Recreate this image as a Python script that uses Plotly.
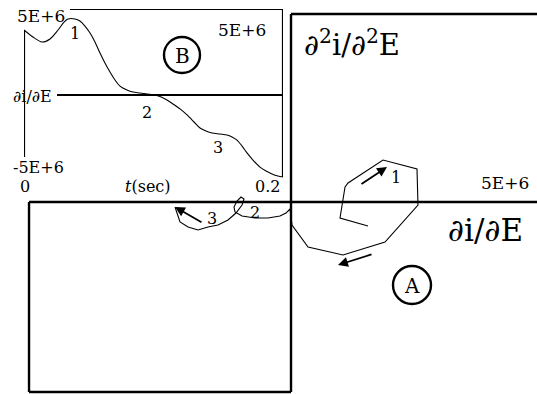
import plotly.graph_objects as go

W, H = 537, 394
SERIF = "DejaVu Serif"
M = 1e6  # stored values below are in units of 1E+6

# ---- Panel A: phase portrait, d2i/d2E versus di/dE (units of 1E+6) ----
phase_didE = [1.565, 0.996, 1.098, 1.159, 1.870, 2.561, 2.581, 1.911, 1.057,
              0.346, 0.020, -0.020, -0.020, -0.102, -0.224, -0.467, -0.732,
              -0.996, -1.138, -1.159, -1.098, -1.016, -0.955, -0.996, -1.118,
              -1.281, -1.484, -1.687, -1.890, -2.093, -2.256, -2.317, -2.358]
phase_d2idE2 = [-0.638, -0.426, 0.399, 0.505, 1.117, 0.878, -0.080, -1.064,
                -1.410, -1.197, -0.612, -0.266, -0.186, -0.293, -0.372, -0.426,
                -0.426, -0.372, -0.266, -0.133, 0.027, 0.133, 0.080, -0.080,
                -0.293, -0.479, -0.612, -0.665, -0.745, -0.665, -0.532, -0.293,
                -0.133]

# direction arrows along the phase path: (tail x, tail y, head x, head y)
phase_arrows = [(1.402, 0.452, 1.951, 0.931),
                (1.667, -1.383, 0.955, -1.676),
                (-1.789, -0.559, -2.358, -0.133)]
phase_marks = [("1", 2.124, 0.665), ("2", -0.732, -0.266), ("3", -1.606, -0.426)]

# ---- Panel B: di/dE versus time ----
t_sec = [0.0, 0.0069, 0.0139, 0.0201, 0.0263, 0.0309, 0.034, 0.0394, 0.0432,
         0.0471, 0.051, 0.0548, 0.0587, 0.0625, 0.0664, 0.0703, 0.0741,
         0.0795, 0.0842, 0.0896, 0.095, 0.1012, 0.105, 0.1104, 0.115, 0.1205,
         0.1259, 0.1313, 0.1359, 0.1405, 0.1452, 0.1514, 0.1568, 0.1606,
         0.1645, 0.1684, 0.1722, 0.1768, 0.1822, 0.1869, 0.1915, 0.1961, 0.2]
didE_t = [3.78, 3.37, 3.08, 3.26, 3.78, 4.24, 4.42, 4.42, 4.30, 4.01, 3.60,
          3.08, 2.44, 1.86, 1.34, 0.87, 0.52, 0.29, 0.17, 0.12, 0.06, 0.0,
          -0.09, -0.29, -0.52, -0.81, -1.16, -1.57, -1.92, -2.09, -2.21, -2.27,
          -2.33, -2.44, -2.62, -2.97, -3.37, -3.78, -4.19, -4.42, -4.59, -4.71,
          -4.77]
time_marks = [("1", 0.0394, 3.60), ("2", 0.0950, -0.99), ("3", 0.1499, -3.03)]

fig = go.Figure()

fig.add_trace(go.Scatter(x=[v * M for v in phase_didE], y=[v * M for v in phase_d2idE2],
                         mode="lines", line=dict(color="black", width=1.1),
                         xaxis="x", yaxis="y", hoverinfo="skip"))
fig.add_trace(go.Scatter(x=t_sec, y=[v * M for v in didE_t], mode="lines",
                         line=dict(color="black", width=1.1, shape="spline", smoothing=0.8),
                         xaxis="x2", yaxis="y2", hoverinfo="skip"))

def seg(x0, y0, x1, y1, xr, yr, w):
    fig.add_shape(type="line", x0=x0, y0=y0, x1=x1, y1=y1, xref=xr, yref=yr,
                  line=dict(color="black", width=w))

# frame of panel A
seg(0, -5.053 * M, 0, 5.0 * M, "x", "y", 2.4)
seg(-5.325 * M, 0, 5.1 * M, 0, "x", "y", 2.4)
seg(0, 5.0 * M, 5.1 * M, 5.0 * M, "x", "y", 2.4)
seg(-5.325 * M, -5.053 * M, -5.325 * M, 0, "x", "y", 2.4)
seg(-5.325 * M, -5.053 * M, 0, -5.053 * M, "x", "y", 2.4)

# frame of panel B
seg(0.0355, 5 * M, 0.2, 5 * M, "x2", "y2", 2.2)
seg(0.2, 5 * M, 0.2, -4.77 * M, "x2", "y2", 2.2)
seg(0, 3.78 * M, 0, -3.60 * M, "x2", "y2", 2.2)
seg(0.0255, 0, 0.2, 0, "x2", "y2", 2.2)
seg(0.00695, -5.116 * M, 0.068, -5.116 * M, "x2", "y2", 2.2)
seg(0.122, -5.116 * M, 0.1722, -5.116 * M, "x2", "y2", 2.2)

def circle(cx, cy, r):
    fig.add_shape(type="circle", xref="paper", yref="paper",
                  x0=(cx - r) / W, x1=(cx + r) / W,
                  y0=1 - (cy + r) / H, y1=1 - (cy - r) / H,
                  line=dict(color="black", width=2.4))

circle(182, 55, 18)
circle(412, 285, 19)

def text(s, px, py, size):
    fig.add_annotation(text=s, x=px / W, y=1 - py / H, xref="paper", yref="paper",
                       showarrow=False, xanchor="center", yanchor="middle",
                       font=dict(family=SERIF, size=size, color="black"))

text("5E+6", 41, 16, 17)
text("5E+6", 242, 30, 17)
text("\u2202i/\u2202E", 32, 96, 16)
text("-5E+6", 38, 167, 16)
text("0", 25, 186, 16)
text("<i>t</i>(sec)", 148, 186, 16)
text("0.2", 267, 186, 16)
text("B", 182, 56, 20)
text("A", 412, 286, 20)
text("5E+6", 505, 183, 17)
text("\u2202<sup>2</sup>i/\u2202<sup>2</sup>E", 352, 43, 29)
text("\u2202i/\u2202E", 485, 230, 31)

for s, x, y in time_marks:
    fig.add_annotation(text=s, x=x, y=y * M, xref="x2", yref="y2", showarrow=False,
                       font=dict(family=SERIF, size=16, color="black"))
for s, x, y in phase_marks:
    fig.add_annotation(text=s, x=x * M, y=y * M, xref="x", yref="y", showarrow=False,
                       font=dict(family=SERIF, size=16, color="black"))
for x0, y0, x1, y1 in phase_arrows:
    fig.add_annotation(x=x1 * M, y=y1 * M, ax=x0 * M, ay=y0 * M, xref="x", yref="y",
                       axref="x", ayref="y", text="", showarrow=True,
                       arrowhead=2, arrowsize=1.1, arrowwidth=1.8, arrowcolor="black")

fig.update_layout(
    width=W, height=H, margin=dict(l=0, r=0, t=0, b=0),
    paper_bgcolor="white", plot_bgcolor="white", showlegend=False,
    font=dict(family=SERIF),
    xaxis=dict(domain=[0, 1], range=[-5.915 * M, 5.0 * M], visible=False),
    yaxis=dict(domain=[0, 1], range=[-5.106 * M, 5.372 * M], visible=False),
    xaxis2=dict(domain=[24 / W, 283 / W], range=[0, 0.2], visible=False, anchor="y2"),
    yaxis2=dict(domain=[1 - 181 / H, 1 - 9 / H], range=[-5 * M, 5 * M], visible=False,
                anchor="x2"),
)

fig.write_html("out.html")
